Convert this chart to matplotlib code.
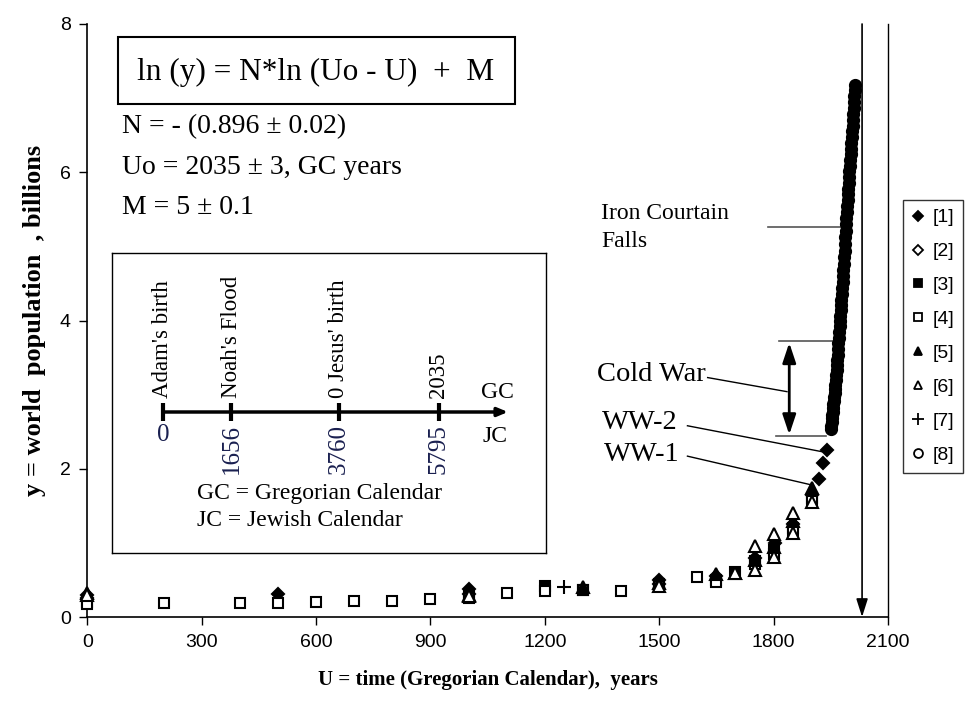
import matplotlib
matplotlib.use("Agg")
import matplotlib.pyplot as plt
from matplotlib.lines import Line2D
from matplotlib.patches import Rectangle

SERIF = "Liberation Serif"
SANS = "Liberation Sans"

# ---------------- data ----------------
s1_x = [0, 500, 1000, 1500, 1650, 1750, 1804, 1850, 1900, 1920, 1930, 1940]
s1_y = [0.30, 0.31, 0.38, 0.50, 0.55, 0.80, 1.00, 1.26, 1.65, 1.86, 2.08, 2.25]

s2_x = [0, 1000, 1500]
s2_y = [0.25, 0.31, 0.45]

s3_x = [0, 1000, 1200, 1300, 1500, 1650, 1700, 1750, 1800, 1850, 1900]
s3_y = [0.20, 0.30, 0.42, 0.37, 0.45, 0.50, 0.61, 0.75, 0.90, 1.20, 1.60]

s4_x = [0, 200, 400, 500, 600, 700, 800, 900, 1000, 1100, 1200, 1300, 1400,
        1500, 1600, 1650, 1750, 1800, 1850, 1900]
s4_y = [0.17, 0.19, 0.19, 0.19, 0.20, 0.21, 0.22, 0.24, 0.26, 0.32, 0.35, 0.36,
        0.35, 0.42, 0.545, 0.47, 0.72, 0.85, 1.15, 1.56]

s5_x = [0, 1000, 1300, 1500, 1650, 1700, 1750, 1800, 1850, 1900]
s5_y = [0.33, 0.30, 0.40, 0.46, 0.58, 0.60, 0.77, 0.95, 1.30, 1.74]

s6_x = [0, 1000, 1500, 1700, 1750, 1750, 1800, 1800, 1850, 1850, 1900]
s6_y = [0.30, 0.28, 0.42, 0.60, 0.63, 0.96, 0.81, 1.12, 1.13, 1.40, 1.55]

s7_x = [1250]
s7_y = [0.40]

s8_x = list(range(1950, 2015))
s8_y = [2.53, 2.58, 2.63, 2.68, 2.73, 2.77, 2.82, 2.87, 2.92, 2.97,
        3.02, 3.07, 3.13, 3.20, 3.26, 3.33, 3.40, 3.47, 3.54, 3.62,
        3.69, 3.77, 3.84, 3.92, 3.99, 4.06, 4.14, 4.21, 4.28, 4.36,
        4.44, 4.52, 4.60, 4.68, 4.76, 4.85, 4.94, 5.03, 5.12, 5.21,
        5.30, 5.38, 5.46, 5.54, 5.62, 5.70, 5.78, 5.86, 5.94, 6.02,
        6.09, 6.17, 6.24, 6.32, 6.39, 6.47, 6.55, 6.63, 6.71, 6.79,
        6.87, 6.95, 7.03, 7.11, 7.18]

legend_labels = ["[1]", "[2]", "[3]", "[4]", "[5]", "[6]", "[7]", "[8]"]
x_ticks = [0, 300, 600, 900, 1200, 1500, 1800, 2100]
y_ticks = [0, 2, 4, 6, 8]

U0 = 2032

# inset timeline
gc_pos = [163, 231.5, 339, 439]          # pixel positions inside inset
top_labels = ["Adam's birth", "Noah's Flood", "0 Jesus' birth", "2035"]
bot_labels = ["0", "1656", "3760", "5795"]

# ---------------- figure ----------------
W, H = 970, 709
fig = plt.figure(figsize=(W / 100, H / 100), dpi=100)
fig.patch.set_facecolor("white")

L, R, T, B = 87.3, 888, 24, 617
ax = fig.add_axes([L / W, (H - B) / H, (R - L) / W, (B - T) / H])
ax.set_xlim(0, 2100)
ax.set_ylim(0, 8)
ax.set_xticks(x_ticks)
ax.set_yticks(y_ticks)
ax.tick_params(direction="out", length=6, width=1, labelsize=14, pad=6)
for lab in ax.get_xticklabels() + ax.get_yticklabels():
    lab.set_fontfamily(SANS)
for side in ["left", "bottom"]:
    ax.spines[side].set_linewidth(1.2)
ax.spines["top"].set_visible(False)
ax.spines["right"].set_linewidth(1)

series = [
    (s1_x, s1_y, "D", "black", 6),
    (s2_x, s2_y, "D", "white", 6),
    (s3_x, s3_y, "s", "black", 7),
    (s4_x, s4_y, "s", "white", 7),
    (s5_x, s5_y, "^", "black", 8),
    (s6_x, s6_y, "^", "white", 8),
    (s7_x, s7_y, "+", "black", 10),
    (s8_x, s8_y, "o", "black", 8),
]
handles = []
for i, (xs, ys, mk, fc, sz) in enumerate(series):
    ax.plot(xs, ys, linestyle="none", marker=mk, markersize=sz,
            markerfacecolor=fc, markeredgecolor="black",
            markeredgewidth=1.5, zorder=3 + i, clip_on=False)
    handles.append(Line2D([], [], linestyle="none", marker=mk,
                          markersize=sz * 0.8,
                          markerfacecolor=("white" if i == 7 else fc),
                          markeredgecolor="black", markeredgewidth=1.3))

# vertical arrow at Uo
ax.annotate("", xy=(U0, 0.0), xytext=(U0, 8.0),
            arrowprops=dict(arrowstyle="-|>,head_width=0.35,head_length=1.1",
                            color="black", lw=1.2, shrinkA=0, shrinkB=0),
            zorder=20, annotation_clip=False)

# Cold War double arrow and limits
gray = "#555555"
ax.plot([1815, 1953], [3.72, 3.72], color=gray, lw=1.2, zorder=2)
ax.plot([1805, 1938], [2.44, 2.44], color=gray, lw=1.2, zorder=2)
ax.annotate("", xy=(1841, 3.70), xytext=(1841, 2.46),
            arrowprops=dict(arrowstyle="<|-|>,head_width=0.4,head_length=1.2",
                            color="black", lw=2, shrinkA=0, shrinkB=0))
ax.text(1479, 3.27, "Cold War", fontfamily=SERIF, fontsize=20.5,
        ha="center", va="center")
ax.plot([1627, 1835], [3.23, 3.04], color="black", lw=1)

ax.text(1448, 2.63, "WW-2", fontfamily=SERIF, fontsize=20.5, ha="center", va="center")
ax.plot([1574, 1927], [2.58, 2.23], color="black", lw=1)
ax.text(1455, 2.19, "WW-1", fontfamily=SERIF, fontsize=20.5, ha="center", va="center")
ax.plot([1574, 1901], [2.17, 1.78], color="black", lw=1)

ax.text(1348, 5.45, "Iron Courtain", fontfamily=SERIF, fontsize=17,
        ha="left", va="center")
ax.text(1348, 5.07, "Falls", fontfamily=SERIF, fontsize=17,
        ha="left", va="center")
ax.plot([1785, 1977], [5.26, 5.26], color=gray, lw=1.2, zorder=2)

# formula box and parameters
fig.patches.append(Rectangle((118 / W, 1 - 104 / H), (515 - 118) / W, 67 / H,
                             transform=fig.transFigure, fc="white", ec="black",
                             lw=1.5))
fig.text(136.7 / W, 1 - 72 / H, "ln (y) = N*ln (Uo - U)  +  M",
         fontfamily=SERIF, fontsize=22.5, ha="left", va="center")
params = ["N = - (0.896 ± 0.02)", "Uo = 2035 ± 3, GC years", "M = 5 ± 0.1"]
for k, p in enumerate(params):
    fig.text(122 / W, 1 - (127 + 40 * k) / H, p, fontfamily=SERIF,
             fontsize=20, ha="left", va="center")

# axis labels
ax.set_xlabel("U = time (Gregorian Calendar),  years", fontfamily=SERIF,
              fontsize=15, fontweight="bold", labelpad=14)
ax.set_ylabel("y = world  population  , billions", fontfamily=SERIF,
              fontsize=19, fontweight="bold", labelpad=10)

# legend
leg = fig.legend(handles=handles, labels=legend_labels, loc="upper left",
                 bbox_to_anchor=(903 / W, 1 - 200 / H), frameon=True,
                 fancybox=False, edgecolor="black",
                 prop={"family": SANS, "size": 14}, handlelength=0.6,
                 handletextpad=0.45, labelspacing=0.84, borderpad=0.45,
                 borderaxespad=0)
leg.get_frame().set_linewidth(1)

# inset box (pixel coordinates)
il, ir, it, ib = 112, 546, 253, 553
ins = fig.add_axes([il / W, (H - ib) / H, (ir - il) / W, (ib - it) / H])
ins.set_xlim(il, ir)
ins.set_ylim(ib, it)
ins.set_xticks([])
ins.set_yticks([])
for sp in ins.spines.values():
    sp.set_linewidth(1)
ins.set_zorder(1)
ins.patch.set_facecolor("white")

ly = 412
ins.annotate("", xy=(508, ly), xytext=(163, ly),
             arrowprops=dict(arrowstyle="-|>,head_width=0.25,head_length=0.6",
                             color="black", lw=2.5, shrinkA=0, shrinkB=0))
for xp, tl, bl in zip(gc_pos, top_labels, bot_labels):
    ins.plot([xp, xp], [403, 421], color="black", lw=3, solid_capstyle="butt")
    ins.text(xp, 398, tl, rotation=90, fontfamily=SERIF, fontsize=16.5,
             ha="center", va="bottom")
    ins.text(xp, 424, bl, rotation=90 if len(bl) > 1 else 0, fontfamily=SERIF,
             fontsize=18, ha="center", va="top", color="#1a2050")
ins.text(497, 393, "GC", fontfamily=SERIF, fontsize=17, ha="center", va="center")
ins.text(495, 437, "JC", fontfamily=SERIF, fontsize=17, ha="center", va="center")
ins.text(197, 493, "GC = Gregorian Calendar", fontfamily=SERIF, fontsize=17,
         ha="left", va="center")
ins.text(197, 520, "JC = Jewish Calendar", fontfamily=SERIF, fontsize=17,
         ha="left", va="center")

fig.savefig("out.png", dpi=100)
